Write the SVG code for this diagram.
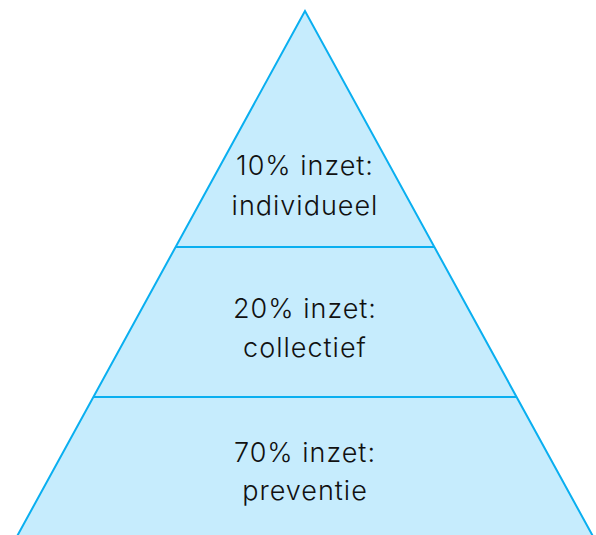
<svg xmlns="http://www.w3.org/2000/svg" width="596" height="535" viewBox="0 0 596 535">
<style>
.tier{fill:#C6ECFD;stroke:#0AAFF0;stroke-width:2;stroke-linejoin:miter}
.sep{stroke:#0AAFF0;stroke-width:2}
.lbl{font-family:"Inter","Liberation Sans",sans-serif;font-size:27px;font-weight:300;fill:#111;text-anchor:middle;letter-spacing:1px}
</style>
<g id="pyramid">
<polygon class="tier" points="305,11 15,540 595,540"/>
</g>
<g id="connectors">
<line class="sep" x1="176" y1="247" x2="434" y2="247"/>
<line class="sep" x1="94" y1="397" x2="516" y2="397"/>
</g>
<g id="tier-top">
<text class="lbl" x="305" y="175">10% inzet:</text>
<text class="lbl" x="305" y="215">individueel</text>
</g>
<g id="tier-middle">
<text class="lbl" x="305" y="318">20% inzet:</text>
<text class="lbl" x="305" y="357">collectief</text>
</g>
<g id="tier-bottom">
<text class="lbl" x="305" y="462">70% inzet:</text>
<text class="lbl" x="305" y="500">preventie</text>
</g>
</svg>
